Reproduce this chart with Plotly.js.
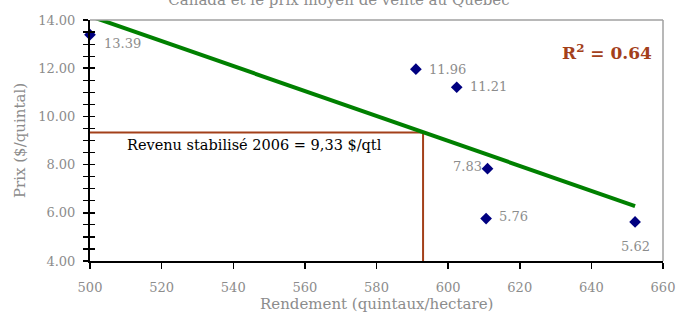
<!DOCTYPE html>
<html>
<head>
<meta charset="utf-8">
<script src="https://cdn.plot.ly/plotly-3.0.1.min.js"></script>
<style>
html,body{margin:0;padding:0;background:#fff;}
#chart{width:678px;height:312px;}
</style>
</head>
<body>
<div id="chart"></div>
<script>
// Data
const rendement = [500, 591, 602.4, 611, 610.6, 652.2];
const prix = [13.39, 11.96, 11.21, 7.83, 5.76, 5.62];
const prixLabels = ["13.39", "11.96", "11.21", "7.83", "5.76", "5.62"];
const trendX = [500, 652.2];
const trendY = [14.16, 6.28];
const revenuX = [500, 593, 593];
const revenuY = [9.33, 9.33, 4];
const r2Text = "R<sup>2</sup> = 0.64";
const revenuText = "Revenu stabilisé 2006 = 9,33 $/qtl";
const titleText = "Canada et le prix moyen de vente au Québec";
const xTitle = "Rendement (quintaux/hectare)";
const yTitle = "Prix ($/quintal)";

const FONT = "DejaVu Serif, serif";
const GRAY = "#8c8c8c";
const BROWN = "#a3401a";

// label placement relative to each marker: [xanchor, yanchor, xshift, yshift]
const labelPlacement = [
  ["left", "middle", 12, -9],
  ["left", "middle", 11, 0],
  ["left", "middle", 11, 1],
  ["right", "middle", -4, 2],
  ["left", "middle", 11, 2],
  ["center", "middle", 0, -25]
];

const traces = [
  {
    x: revenuX, y: revenuY, mode: "lines", type: "scatter",
    line: {color: BROWN, width: 2}, hoverinfo: "skip", showlegend: false
  },
  {
    x: trendX, y: trendY, mode: "lines", type: "scatter", yaxis: "y2",
    line: {color: "#008000", width: 4}, hoverinfo: "skip", showlegend: false
  },
  {
    x: rendement, y: prix, mode: "markers", type: "scatter",
    marker: {symbol: "diamond", color: "#000080", size: 9},
    cliponaxis: false, showlegend: false
  }
];

const labelAnnotations = prixLabels.map((t, i) => ({
  text: t, xref: "x", yref: "y", x: rendement[i], y: prix[i],
  xanchor: labelPlacement[i][0], yanchor: labelPlacement[i][1],
  xshift: labelPlacement[i][2], yshift: labelPlacement[i][3],
  showarrow: false, font: {family: FONT, size: 13, color: GRAY}
}));

const layout = {
  width: 678, height: 312,
  margin: {l: 90, r: 15, t: 20, b: 51},
  paper_bgcolor: "#fff", plot_bgcolor: "#fff",
  font: {family: FONT, size: 13, color: GRAY},
  title: {
    text: titleText, x: 0.5, xref: "container", y: 1, yref: "container", yanchor: "middle",
    font: {family: FONT, size: 15, color: GRAY}
  },
  xaxis: {
    range: [500, 660], dtick: 20, tick0: 500,
    showgrid: false, zeroline: false,
    showline: true, linecolor: "#000", linewidth: 2,
    ticks: "outside", ticklen: 6, tickwidth: 1.5, tickcolor: "#000",
    ticklabelstandoff: 7,
    tickfont: {family: FONT, size: 13, color: GRAY}
  },
  yaxis: {
    range: [4, 14], dtick: 2, tick0: 4, tickformat: ".2f",
    showgrid: false, zeroline: false,
    showline: true, linecolor: "#000", linewidth: 2,
    ticks: "outside", ticklen: 5, tickwidth: 1.5, tickcolor: "#000",
    ticklabelstandoff: 5,
    minor: {dtick: 0.5, ticks: "outside", ticklen: 5, tickwidth: 1.2, tickcolor: "#000", showgrid: false},
    tickfont: {family: FONT, size: 13, color: GRAY},
    title: {text: yTitle, standoff: 9, font: {family: FONT, size: 15, color: GRAY}}
  },
  yaxis2: {
    overlaying: "y", matches: "y", side: "left",
    range: [4, 14], dtick: 2, tick0: 4,
    showgrid: false, zeroline: false, showline: false, showticklabels: false,
    ticks: "inside", ticklen: 5, tickwidth: 1.5, tickcolor: "#000",
    minor: {dtick: 0.5, ticks: "inside", ticklen: 5, tickwidth: 1.2, tickcolor: "#000", showgrid: false}
  },
  shapes: [
    {type: "line", xref: "paper", yref: "paper", x0: 0, x1: 1, y0: 1, y1: 1, line: {color: "#a0a0a0", width: 1.5}},
    {type: "line", xref: "paper", yref: "paper", x0: 1, x1: 1, y0: 0, y1: 1, line: {color: "#a0a0a0", width: 1.5}}
  ],
  annotations: [
    {text: xTitle, xref: "paper", yref: "paper", x: 0.5, y: 0, yshift: -43, xanchor: "center", yanchor: "middle",
     showarrow: false, font: {family: FONT, size: 15, color: GRAY}},
    {text: r2Text, xref: "paper", yref: "paper", x: 0.984, y: 0.868, xanchor: "right", yanchor: "middle",
     showarrow: false, font: {family: FONT, size: 17, color: BROWN, weight: "bold"}},
    {text: revenuText, xref: "x", yref: "y", x: 546, y: 8.81, xanchor: "center", yanchor: "middle",
     showarrow: false, font: {family: FONT, size: 14.5, color: "#000"}}
  ].concat(labelAnnotations)
};

Plotly.newPlot("chart", traces, layout, {displayModeBar: false, staticPlot: true});
</script>
</body>
</html>
